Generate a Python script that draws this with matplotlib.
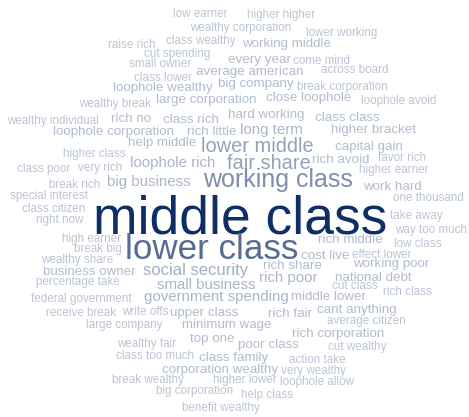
import matplotlib
matplotlib.use("Agg")
import matplotlib.pyplot as plt
import numpy as np
from matplotlib.colors import LinearSegmentedColormap

# word cloud data: phrase and (estimated) frequency
words = [
    "low earner", "wealthy corporation", "higher higher", "lower working", "raise rich",
    "class wealthy", "working middle", "cut spending", "every year", "come mind",
    "small owner", "average american", "across board", "class lower", "loophole wealthy",
    "big company", "break corporation", "wealthy break", "large corporation", "close loophole",
    "loophole avoid", "wealthy individual", "rich no", "class rich", "hard working",
    "class class", "loophole corporation", "rich little", "long term", "higher bracket",
    "help middle", "lower middle", "capital gain", "higher class", "class poor",
    "very rich", "loophole rich", "fair share", "rich avoid", "favor rich",
    "higher earner", "break rich", "big business", "working class", "work hard",
    "special interest", "one thousand", "middle class", "class citizen", "take away",
    "right now", "way too much", "high earner", "rich middle", "low class",
    "break big", "lower class", "cost live", "effect lower", "wealthy share",
    "working poor", "rich share", "business owner", "social security", "national debt",
    "rich poor", "percentage take", "small business", "cut class", "rich class",
    "federal government", "government spending", "middle lower", "receive break", "write offs",
    "upper class", "rich fair", "cant anything", "large company", "minimum wage",
    "average citizen", "rich corporation", "top one", "wealthy fair", "poor class",
    "cut wealthy", "class too much", "class family", "action take", "corporation wealthy",
    "very wealthy", "break wealthy", "higher lower", "loophole allow", "big corporation",
    "help class", "benefit wealthy",
]
counts = [
    5, 5, 5, 5, 5,
    5, 6, 5, 6, 5,
    5, 6, 5, 5, 6,
    6, 5, 5, 6, 6,
    5, 5, 6, 6, 6,
    6, 6, 6, 7, 6,
    6, 10, 6, 5, 5,
    5, 7, 10, 6, 5,
    5, 5, 7, 13, 6,
    5, 5, 30, 5, 5,
    5, 5, 5, 6, 5,
    5, 19, 6, 5, 5,
    6, 6, 6, 8, 6,
    7, 5, 7, 5, 5,
    5, 7, 6, 5, 5,
    6, 6, 6, 5, 6,
    5, 6, 6, 5, 6,
    5, 5, 6, 5, 6,
    5, 5, 5, 5, 5,
    5, 5,
]

# layout from the cloud placement (left edge, baseline) in pixels
layout = [
    (172.7, 17.3), (190, 31), (246.7, 18.3), (306, 35.7), (108.3, 48.3),
    (166, 44.3), (242.3, 47.3), (144, 57.3), (227.7, 62.7), (293.3, 64),
    (129.3, 66.7), (196, 75), (321, 73.3), (134, 80.7), (113.3, 91),
    (218.3, 87.3), (297.3, 90), (79.3, 107.3), (155.7, 103.3), (265.7, 101.3),
    (360.7, 104), (7.3, 124), (111, 121.7), (162.7, 122.7), (228.3, 118.3),
    (315, 120.7), (53.3, 135), (186.7, 135), (240.5, 134), (330.7, 132.7),
    (128, 146), (201, 151.7), (335, 150), (62.7, 156.7), (16.7, 171.7),
    (78.3, 170.7), (130, 167), (226.7, 169), (312.3, 163.3), (377.7, 160.7),
    (359.3, 172.7), (49, 188.3), (107.3, 185.7), (203.3, 186.7), (362.7, 190),
    (10, 199.3), (393.3, 200.7), (92.7, 233.3), (21.7, 211.7), (390, 219),
    (36, 223.3), (395, 232.7), (61.7, 242.3), (318.3, 242.7), (394.3, 247.3),
    (74, 252.3), (125, 259), (300.7, 259.3), (352.3, 257.7), (41, 262.7),
    (353.3, 267.3), (263.3, 269.3), (42.7, 275), (143.3, 275), (335, 280.7),
    (259, 281.7), (36, 285), (156.7, 289.3), (331.7, 288.7), (383.3, 295),
    (30.7, 302.3), (144.3, 301.3), (291.3, 300.3), (46, 315.7), (122.3, 315),
    (170, 315.7), (267.7, 316.7), (316.7, 313.3), (86, 328.3), (181.7, 328.3),
    (326.7, 324), (291.7, 336.7), (190, 341.7), (117.3, 346.7), (237.7, 348.3),
    (327.7, 350), (116, 359), (199, 360.7), (289, 362.7), (161.7, 373.3),
    (280.7, 374.3), (111.7, 383.3), (213.3, 383.3), (280, 385), (155.7, 394),
    (241, 397.7), (181.7, 410.7),
]

cmap = LinearSegmentedColormap.from_list("cloud", ["#bcc4d4", "#0e2f66"])

counts_arr = np.array(counts, dtype=float)
t = (counts_arr - counts_arr.min()) / (counts_arr.max() - counts_arr.min())
sizes = 2.4 + 1.2 * counts_arr

fig = plt.figure(figsize=(4.69, 4.17), dpi=100)
ax = fig.add_axes([0, 0, 1, 1])
ax.set_xlim(0, 469)
ax.set_ylim(417, 0)
ax.axis("off")

for w, (x, y), s, ti in zip(words, layout, sizes, t):
    ax.text(x, y, w, fontsize=s, color=cmap(ti ** 0.9), family="Liberation Sans",
            ha="left", va="baseline")

fig.savefig("out.png", dpi=100, facecolor="white")
